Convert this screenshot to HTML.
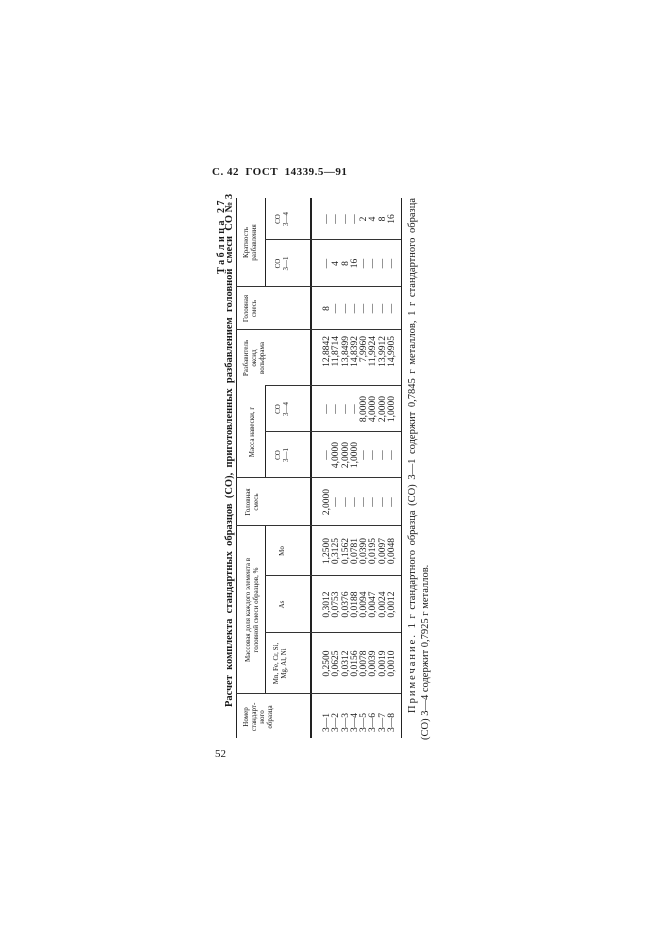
<!DOCTYPE html>
<html><head><meta charset="utf-8"><style>
html,body{margin:0;padding:0;background:#fff;}
body{width:661px;height:935px;position:relative;overflow:hidden;font-family:"Liberation Serif",serif;color:#1a1a1a;}
.hdr{position:absolute;left:212px;top:166px;font-size:11px;font-weight:bold;letter-spacing:0.5px;white-space:nowrap;}
#r{position:absolute;left:220px;top:740px;width:545px;height:220px;transform-origin:0 0;transform:rotate(-90deg);}
#r div{position:absolute;}
.hl{background:#222;height:1px;}
.vl{background:#333;width:1px;}
.t{font-size:7px;line-height:8px;text-align:center;white-space:nowrap;}
.col{font-size:9.5px;line-height:9.3px;text-align:center;white-space:pre;}
</style></head><body>
<div class="hdr">С. 42&nbsp; ГОСТ&nbsp; 14339.5—91</div>
<div style="position:absolute;left:215px;top:748px;font-size:11px;">52</div>
<div id="r">
  <div style="right:3px;top:-4px;font-size:10px;font-weight:bold;letter-spacing:2.5px;white-space:nowrap;">Таблица 27</div>
  <div style="left:33px;width:509px;top:4px;font-size:10.5px;font-weight:bold;white-space:nowrap;text-align:justify;text-align-last:justify;">Расчет&nbsp; комплекта&nbsp; стандартных&nbsp; образцов&nbsp; (СО),&nbsp; приготовленных&nbsp; разбавлением&nbsp; головной&nbsp; смеси&nbsp; СО № 3</div>
  <div class="hl" style="left:2px;width:540px;top:16px;"></div>
  <div class="hl" style="left:2px;width:540px;top:90px;height:1.5px;"></div>
  <div class="hl" style="left:2px;width:540px;top:181px;"></div>
  <div class="hl" style="left:46px;width:168px;top:45px;"></div>
  <div class="hl" style="left:262px;width:92px;top:45px;"></div>
  <div class="hl" style="left:453px;width:89px;top:45px;"></div>
  <div class="vl" style="left:46px;top:16px;height:165px;"></div>
  <div class="vl" style="left:107px;top:45px;height:136px;"></div>
  <div class="vl" style="left:164px;top:45px;height:136px;"></div>
  <div class="vl" style="left:214px;top:16px;height:165px;"></div>
  <div class="vl" style="left:262px;top:16px;height:165px;"></div>
  <div class="vl" style="left:308px;top:45px;height:136px;"></div>
  <div class="vl" style="left:354px;top:45px;height:136px;"></div>
  <div class="vl" style="left:410px;top:16px;height:165px;"></div>
  <div class="vl" style="left:453px;top:16px;height:165px;"></div>
  <div class="vl" style="left:500px;top:45px;height:136px;"></div>

  <div class="t" style="left:0px;width:46px;top:22px;">Номер<br>стандарт-<br>ного<br>образца</div>
  <div class="t" style="left:46px;width:168px;top:24px;">Массовая доля каждого элемента в<br>головной смеси образцов, %</div>
  <div class="t" style="left:46px;width:61px;top:52px;">Mn, Fe, Cr, Si,<br>Mg, Al, Ni</div>
  <div class="t" style="left:107px;width:57px;top:58px;">As</div>
  <div class="t" style="left:164px;width:50px;top:58px;">Mo</div>
  <div class="t" style="left:214px;width:48px;top:24px;">Головная<br>смесь</div>
  <div class="t" style="left:262px;width:92px;top:28px;">Масса навески, г</div>
  <div class="t" style="left:262px;width:46px;top:54px;">СО<br>3—1</div>
  <div class="t" style="left:308px;width:46px;top:54px;">СО<br>3—4</div>
  <div class="t" style="left:354px;width:56px;top:22px;">Разбавитель<br>оксид<br>вольфрама</div>
  <div class="t" style="left:410px;width:43px;top:22px;">Головная<br>смесь</div>
  <div class="t" style="left:453px;width:89px;top:22px;">Кратность<br>разбавления</div>
  <div class="t" style="left:453px;width:47px;top:54px;">СО<br>3—1</div>
  <div class="t" style="left:500px;width:42px;top:54px;">СО<br>3—4</div>

  <div class="col" style="left:2px;width:44px;top:103px;text-align:left;padding-left:6px;">3—1
3—2
3—3
3—4
3—5
3—6
3—7
3—8</div>
  <div class="col" style="left:46px;width:61px;top:103px;">0,2500
0,0625
0,0312
0,0156
0,0078
0,0039
0,0019
0,0010</div>
  <div class="col" style="left:107px;width:57px;top:103px;">0,3012
0,0753
0,0376
0,0188
0,0094
0,0047
0,0024
0,0012</div>
  <div class="col" style="left:164px;width:50px;top:103px;">1,2500
0,3125
0,1562
0,0781
0,0390
0,0195
0,0097
0,0048</div>
  <div class="col" style="left:214px;width:48px;top:103px;">2,0000
—
—
—
—
—
—
—</div>
  <div class="col" style="left:262px;width:46px;top:103px;">—
4,0000
2,0000
1,0000
—
—
—
—</div>
  <div class="col" style="left:308px;width:46px;top:103px;">—
—
—
—
8,0000
4,0000
2,0000
1,0000</div>
  <div class="col" style="left:354px;width:56px;top:103px;"><span style="display:inline-block;width:44px;text-align:right;">12,8842
11,8714
13,8499
14,8392
7,9960
11,9924
13,9912
14,9905</span></div>
  <div class="col" style="left:410px;width:43px;top:103px;">8
—
—
—
—
—
—
—</div>
  <div class="col" style="left:453px;width:47px;top:103px;">—
4
8
16
—
—
—
—</div>
  <div class="col" style="left:500px;width:42px;top:103px;">—
—
—
—
2
4
8
16</div>

  <div style="left:27px;width:515px;top:187px;font-size:10.5px;white-space:nowrap;text-align:justify;text-align-last:justify;"><span style="letter-spacing:2px;">Примечание.</span> 1 г стандартного образца (СО) 3—1 содержит 0,7845 г металлов, 1 г стандартного образца</div>
  <div style="left:0px;top:200px;font-size:10.5px;white-space:nowrap;">(СО) 3—4 содержит 0,7925 г металлов.</div>
</div>
</body></html>
